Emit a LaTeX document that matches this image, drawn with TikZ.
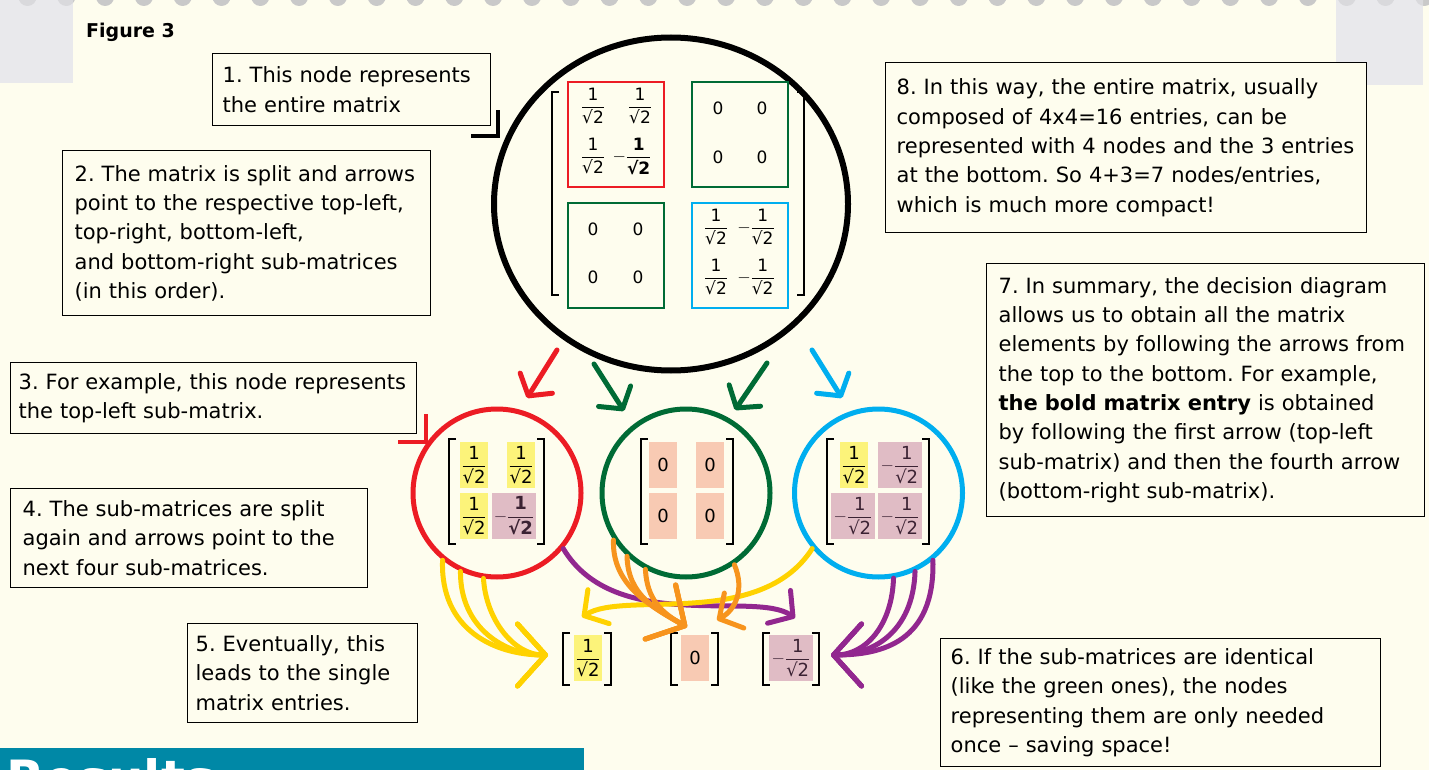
\documentclass[tikz,border=0pt]{standalone}
\usepackage{amsmath}
\usepackage{fontspec}
\setmainfont{DejaVu Sans}
\usetikzlibrary{shapes.geometric,arrows.meta,calc}
\definecolor{cream}{HTML}{FEFDEE}
\definecolor{dotgray}{HTML}{C9C9C9}
\definecolor{dotfaint}{HTML}{D9D9DC}
\definecolor{tape}{HTML}{E9E9EC}
\definecolor{teal1}{HTML}{0088A6}
\definecolor{red1}{HTML}{EC1C24}
\definecolor{green1}{HTML}{006B35}
\definecolor{cyan1}{HTML}{00AEEF}
\definecolor{yellow1}{HTML}{FFD200}
\definecolor{orange1}{HTML}{F7941D}
\definecolor{purple1}{HTML}{92278F}
\definecolor{hlyellow}{HTML}{FCF37A}
\definecolor{salmon}{HTML}{F8CAB3}
\definecolor{mauve}{HTML}{E0BCC5}
\definecolor{mtext}{HTML}{3B2233}
\frenchspacing
\newcommand{\fr}{$\dfrac{\text{1}}{\text{√2}}$}
\newcommand{\mfr}{$-\dfrac{\text{1}}{\text{√2}}$}
\newcommand{\bmfr}{$-\dfrac{\textbf{1}}{\textbf{√2}}$}
\newcommand{\notefont}{\fontsize{21}{29.3}\selectfont}
\newcommand{\bigmat}{\fontsize{17}{19}\selectfont}
\newcommand{\smallmat}{\fontsize{18}{20}\selectfont}
\tikzset{
  note/.style={draw, line width=1.3pt, fill=cream, inner xsep=10pt, inner ysep=0pt,
    align=left, anchor=north west, font=\notefont},
  brk/.style={line width=1.6pt, black},
  ent/.style={inner sep=0pt, font=\bigmat},
  sub/.style={line width=2.8pt, inner sep=0pt, minimum height=105, minimum width=96},
  ring/.style={circle, line width=5pt, minimum size=168, inner sep=0pt},
  cellbase/.style={inner sep=0pt, minimum height=46, font=\smallmat},
  ycell/.style={cellbase, fill=hlyellow, minimum width=28},
  scell/.style={cellbase, fill=salmon, minimum width=28},
  mcell/.style={cellbase, fill=mauve, minimum width=44, text=mtext},
  hand/.style={line width=5pt, line cap=round, line join=round},
  sbarb/.style={-{Straight Barb[length=15pt,width=38pt,round]}},
  mbarb/.style={-{Straight Barb[length=17pt,width=40pt,round]}},
  bbarb/.style={-{Straight Barb[length=28pt,width=62pt,round]}},
  corner/.style={line width=4pt, line cap=butt, line join=miter}
}
\begin{document}
\begin{tikzpicture}[x=1pt,y=-1pt]
\useasboundingbox (0,0) rectangle (1429,770);
\fill[cream] (0,0) rectangle (1429,770);
% top dots
\foreach \i in {0,...,36} \fill[dotgray] (27.5+38.8*\i,-3) circle (9);
% tapes
\fill[tape] (0,0) rectangle (73,83);
\fill[tape] (1336,0) rectangle (1423,85);
\begin{scope}
\clip (0,0) rectangle (73,83) (1336,0) rectangle (1423,85);
\foreach \i in {0,...,36} \fill[dotfaint] (27.5+38.8*\i,-3) circle (9);
\end{scope}
% bottom teal band
\fill[teal1] (0,748) rectangle (584,770);
\begin{scope}
\clip (0,748) rectangle (584,770);
\node[anchor=base west, inner sep=0pt, text=white, font=\bfseries\fontsize{50}{54}\selectfont] (res) at (6,796) {Results};
\end{scope}

\node[anchor=west, inner sep=0pt, font=\bfseries\fontsize{19}{22}\selectfont] (fig) at (86,32) {Figure 3};

% notes
\node[note, minimum width=278, minimum height=72, text width=258] (b1) at (212,53)
  {1. This node represents\\the entire matrix};
\node[note, minimum width=368, minimum height=165, text width=344, inner xsep=12pt] (b2) at (62,150)
  {2. The matrix is split and arrows\\point to the respective top-left,\\top-right, bottom-left,\\and bottom-right sub-matrices\\(in this order).};
\node[note, minimum width=406, minimum height=71, text width=390, inner xsep=8pt] (b3) at (10,362)
  {3. For example, this node represents\\the top-left sub-matrix.};
\node[note, minimum width=357, minimum height=99, text width=333, inner xsep=12pt] (b4) at (10,488)
  {4. The sub-matrices are split\\again and arrows point to the\\next four sub-matrices.};
\node[note, minimum width=230, minimum height=99, text width=214, inner xsep=8pt] (b5) at (187,623)
  {5. Eventually, this\\leads to the single\\matrix entries.};
\node[note, minimum width=440, minimum height=128, text width=420] (b6) at (940,638)
  {6. If the sub-matrices are identical\\(like the green ones), the nodes\\representing them are only needed\\once – saving space!};
\node[note, minimum width=438, minimum height=253, text width=414, inner xsep=12pt] (b7) at (986,263)
  {7. In summary, the decision diagram\\allows us to obtain all the matrix\\elements by following the arrows from\\the top to the bottom. For example,\\\textbf{the bold matrix entry} is obtained\\by following the first arrow (top-left\\sub-matrix) and then the fourth arrow\\(bottom-right sub-matrix).};
\node[note, minimum width=481, minimum height=170, text width=459, inner xsep=11pt] (b8) at (885,62)
  {8. In this way, the entire matrix, usually\\composed of 4x4=16 entries, can be\\represented with 4 nodes and the 3 entries\\at the bottom. So 4+3=7 nodes/entries,\\which is much more compact!};

% corner pointers
\draw[corner, black] ([shift={(-20,10)}]b1.south east) -- ([shift={(7,10)}]b1.south east) -- ([shift={(7,-16)}]b1.south east);
\draw[corner, red1] ([shift={(-19,8)}]b3.south east) -- ([shift={(9,8)}]b3.south east) -- ([shift={(9,-20)}]b3.south east);

% top node
\node[ellipse, draw, line width=6pt, minimum width=354, minimum height=333, inner sep=0pt] (top) at (671,204) {};
\draw[brk] (559,92) -- (552,92) -- (552,295) -- (559,295);
\draw[brk] (797,92) -- (804,92) -- (804,295) -- (797,295);
\node[sub, draw=red1] (tl) at (616,134.5) {};
\node[sub, draw=green1] (tr) at (740,134.5) {};
\node[sub, draw=green1] (bl) at (616,255.5) {};
\node[sub, draw=cyan1] (br) at (740,255.5) {};
\node[ent] (e11) at (593,106) {\fr};
\node[ent] (e12) at (640,106) {\fr};
\node[ent] (e21) at (593,156) {\fr};
\node[ent] (e22) at (632,156) {\bmfr};
\node[ent] (e13) at (718,108) {0};
\node[ent] (e14) at (762,108) {0};
\node[ent] (e23) at (718,157) {0};
\node[ent] (e24) at (762,157) {0};
\node[ent] (e31) at (593,229) {0};
\node[ent] (e32) at (638,229) {0};
\node[ent] (e41) at (593,277) {0};
\node[ent] (e42) at (638,277) {0};
\node[ent] (e33) at (716,227) {\fr};
\node[ent] (e34) at (756,227) {\mfr};
\node[ent] (e43) at (716,277) {\fr};
\node[ent] (e44) at (756,277) {\mfr};

% second level circles
\node[ring, draw=red1] (cr) at (497,493) {};
\node[ring, draw=green1] (cg) at (686,493) {};
\node[ring, draw=cyan1] (cb) at (878.5,493) {};
% red circle matrix
\draw[brk] (456,439) -- (449,439) -- (449,544) -- (456,544);
\draw[brk] (537,439) -- (544,439) -- (544,544) -- (537,544);
\node[ycell] (r11) at (474,465) {\fr};
\node[ycell] (r12) at (521,465) {\fr};
\node[ycell] (r21) at (474,516) {\fr};
\node[mcell] (r22) at (514,516) {\bmfr};
% green circle matrix
\draw[brk] (648,439) -- (641,439) -- (641,544) -- (648,544);
\draw[brk] (726,439) -- (733,439) -- (733,544) -- (726,544);
\node[scell] (g11) at (663,465) {0};
\node[scell] (g12) at (710,465) {0};
\node[scell] (g21) at (663,516) {0};
\node[scell] (g22) at (710,516) {0};
% blue circle matrix
\draw[brk] (834,439) -- (827,439) -- (827,544) -- (834,544);
\draw[brk] (922,439) -- (929,439) -- (929,544) -- (922,544);
\node[ycell] (c11) at (854,465) {\fr};
\node[mcell] (c12) at (900,465) {\mfr};
\node[mcell] (c21) at (853,516) {\mfr};
\node[mcell] (c22) at (900,516) {\mfr};

% leaves
\draw[brk] (570,633) -- (563,633) -- (563,685) -- (570,685);
\draw[brk] (604,633) -- (611,633) -- (611,685) -- (604,685);
\node[ycell] (ly) at (588,658) {\fr};
\draw[brk] (678,633) -- (671,633) -- (671,685) -- (678,685);
\draw[brk] (711,633) -- (718,633) -- (718,685) -- (711,685);
\node[scell] (ls) at (695,658) {0};
\draw[brk] (770,633) -- (763,633) -- (763,685) -- (770,685);
\draw[brk] (812,633) -- (819,633) -- (819,685) -- (812,685);
\node[mcell] (lm) at (791,658) {\mfr};

% straight arrows from top
\coordinate (ra) at (557,350); \coordinate (rb) at (527,398);
\coordinate (ga) at (594,364); \coordinate (gb) at (624,411);
\coordinate (ha) at (767,363); \coordinate (hb) at (735,410);
\coordinate (ba) at (812,350); \coordinate (bb) at (842,398);
\draw[hand, sbarb, red1] (ra) -- (rb);
\draw[hand, sbarb, green1] (ga) -- (gb);
\draw[hand, sbarb, green1] (ha) -- (hb);
\draw[hand, sbarb, cyan1] (ba) -- (bb);

% tips near leaves
\coordinate (ty) at (548,655);
\coordinate (ty2) at (582,617);
\coordinate (to) at (687,627);
\coordinate (to2) at (717,620);
\coordinate (tp2) at (795,618);
\coordinate (tp) at (831,655);

% purple arrows
\draw[hand, mbarb, purple1] (cr.320) .. controls (615,635) and (755,590) .. (tp2);
\draw[hand, bbarb, purple1] (cb.280) .. controls (892,625) and (866,655) .. (tp);
\draw[hand, bbarb, purple1] (cb.295) .. controls (913,632) and (873,655) .. (tp);
\draw[hand, bbarb, purple1] (cb.309) .. controls (935,642) and (882,655) .. (tp);
% yellow arrows
\draw[hand, mbarb, yellow1] (cb.220) .. controls (760,630) and (625,590) .. (ty2);
\draw[hand, bbarb, yellow1] (cr.231) .. controls (440,630) and (495,655) .. (ty);
\draw[hand, bbarb, yellow1] (cr.245) .. controls (460,628) and (505,655) .. (ty);
\draw[hand, bbarb, yellow1] (cr.261) .. controls (486,620) and (514,655) .. (ty);
% orange arrows
\draw[hand, bbarb, orange1] (cg.213) .. controls (612,585) and (650,606) .. (to);
\draw[hand, bbarb, orange1] (cg.227) .. controls (628,595) and (655,609) .. (to);
\draw[hand, bbarb, orange1] (cg.242) .. controls (647,600) and (662,613) .. (to);
\draw[hand, mbarb, orange1] (cg.304) .. controls (745,590) and (735,610) .. (to2);
\end{tikzpicture}
\end{document}
